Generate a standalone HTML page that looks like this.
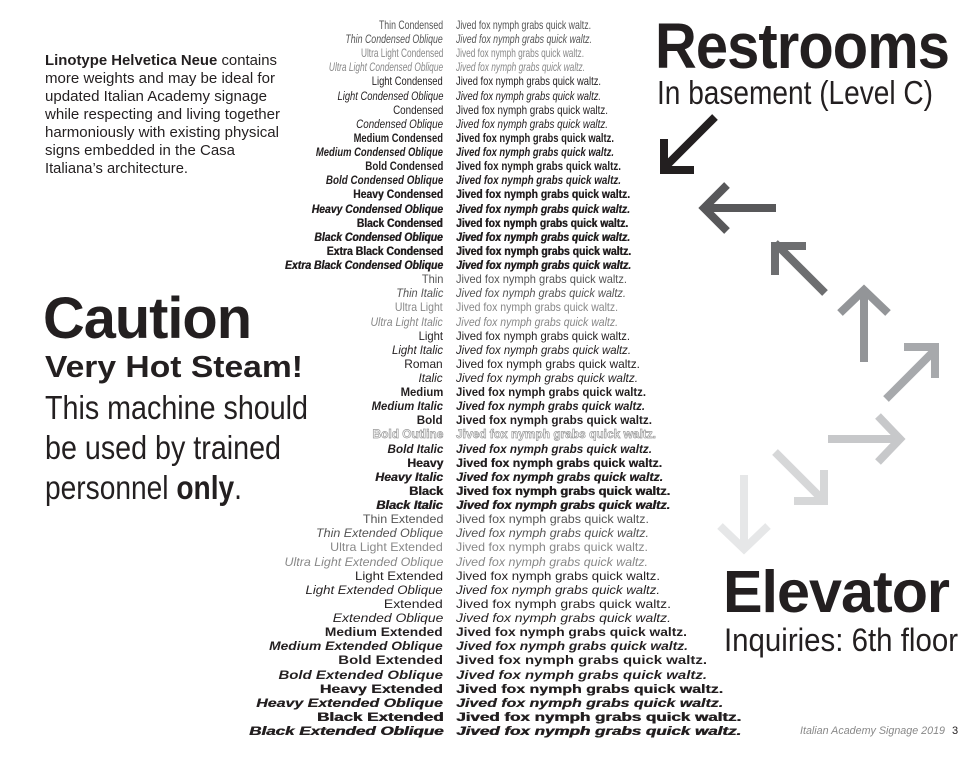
<!DOCTYPE html>
<html><head><meta charset="utf-8"><style>
html,body{margin:0;padding:0;background:#fff}
body{width:980px;height:757px;position:relative;overflow:hidden;font-family:"Liberation Sans",Arial,sans-serif;color:#231f20}
.r{position:absolute;left:0;width:980px;height:14px;line-height:14px;font-size:12px;white-space:nowrap}
.r .l{position:absolute;right:537px;transform-origin:right center;display:inline-block}
.r .s{position:absolute;left:456px;transform-origin:left center;display:inline-block}
.i{font-style:italic}
.b{font-weight:700}
.h{font-weight:700;text-shadow:0.3px 0 0 currentColor}
.k{font-weight:700;text-shadow:0.5px 0 0 currentColor}
.t{color:#555}
.u{color:#888}
.o{color:#fff;-webkit-text-stroke:0.7px #999;font-weight:700}
.abs{position:absolute;white-space:nowrap;transform-origin:left top}
.p{position:absolute;left:45px;font-size:14.5px;line-height:18px;white-space:nowrap;transform-origin:left top}
</style></head><body>

<div class="p" id="p1" style="top:52px"><b>Linotype Helvetica Neue</b> contains</div>
<div class="p" id="p2" style="top:70px">more weights and may be ideal for</div>
<div class="p" id="p3" style="top:88px">updated Italian Academy signage</div>
<div class="p" id="p4" style="top:106px">while respecting and living together</div>
<div class="p" id="p5" style="top:124px">harmoniously with existing physical</div>
<div class="p" id="p6" style="top:142px">signs embedded in the Casa</div>
<div class="p" id="p7" style="top:160px">Italiana’s architecture.</div>

<div class="abs" id="caution" style="left:43px;top:286px;font-size:58px;font-weight:700;line-height:66px;letter-spacing:-1px">Caution</div>
<div class="abs" id="steam" style="left:45px;top:347px;font-size:31px;font-weight:700;line-height:40px">Very Hot Steam!</div>
<div class="abs" id="m1" style="left:45px;top:388px;font-size:33px;line-height:40px">This machine should</div>
<div class="abs" id="m2" style="left:45px;top:428px;font-size:33px;line-height:40px">be used by trained</div>
<div class="abs" id="m3" style="left:45px;top:468px;font-size:33px;line-height:40px">personnel <b>only</b>.</div>

<div class="abs" id="rest" style="left:655px;top:11px;font-size:64px;font-weight:700;line-height:70px;letter-spacing:-1px">Restrooms</div>
<div class="abs" id="base" style="left:657px;top:73px;font-size:33px;line-height:40px">In basement (Level C)</div>
<div class="abs" id="elev" style="left:723px;top:559px;font-size:59px;font-weight:700;line-height:66px;letter-spacing:-1px">Elevator</div>
<div class="abs" id="inq" style="left:724px;top:620px;font-size:32px;line-height:40px">Inquiries: 6th floor</div>
<div class="abs" id="foot" style="left:800px;top:724px;font-size:11px;font-style:italic;color:#888;line-height:14px">Italian Academy Signage 2019</div>
<div class="abs" style="left:952px;top:724px;font-size:11px;color:#231f20;line-height:14px">3</div>

<svg style="position:absolute;left:0;top:0" width="980" height="757" fill="none" stroke-width="8" stroke-linecap="butt" stroke-linejoin="miter">
<g stroke="#231f20"><line x1="715" y1="117" x2="664" y2="168"/><polyline points="694,170 664,170 664,139"/></g>
<g stroke="#58585a"><line x1="776" y1="208" x2="704" y2="208"/><polyline points="727,185 704,208 727,231"/></g>
<g stroke="#6d6e70"><line x1="825" y1="293" x2="775" y2="243"/><polyline points="806,246 775,246 775,275"/></g>
<g stroke="#939598"><line x1="864" y1="362" x2="864" y2="290"/><polyline points="840,313 864,290 888,313"/></g>
<g stroke="#a7a9ac"><line x1="886" y1="399" x2="935" y2="350"/><polyline points="904,347 935,347 935,378"/></g>
<g stroke="#c7c8ca"><line x1="828" y1="439" x2="900" y2="439"/><polyline points="878,416 900,439 878,462"/></g>
<g stroke="#d6d7d8"><line x1="775" y1="452" x2="824" y2="501"/><polyline points="794,501 824,501 824,470"/></g>
<g stroke="#e6e7e8"><line x1="744" y1="475" x2="744" y2="547"/><polyline points="720,526 744,549 768,526"/></g>
</svg>

<div id="list">
<div class="r"><span class="l t">Thin Condensed</span><span class="s t">Jived fox nymph grabs quick waltz.</span></div>
<div class="r i"><span class="l t">Thin Condensed Oblique</span><span class="s t">Jived fox nymph grabs quick waltz.</span></div>
<div class="r"><span class="l u">Ultra Light Condensed</span><span class="s u">Jived fox nymph grabs quick waltz.</span></div>
<div class="r i"><span class="l u">Ultra Light Condensed Oblique</span><span class="s u">Jived fox nymph grabs quick waltz.</span></div>
<div class="r"><span class="l">Light Condensed</span><span class="s">Jived fox nymph grabs quick waltz.</span></div>
<div class="r i"><span class="l">Light Condensed Oblique</span><span class="s">Jived fox nymph grabs quick waltz.</span></div>
<div class="r"><span class="l">Condensed</span><span class="s">Jived fox nymph grabs quick waltz.</span></div>
<div class="r i"><span class="l">Condensed Oblique</span><span class="s">Jived fox nymph grabs quick waltz.</span></div>
<div class="r b"><span class="l">Medium Condensed</span><span class="s">Jived fox nymph grabs quick waltz.</span></div>
<div class="r b i"><span class="l">Medium Condensed Oblique</span><span class="s">Jived fox nymph grabs quick waltz.</span></div>
<div class="r b"><span class="l">Bold Condensed</span><span class="s">Jived fox nymph grabs quick waltz.</span></div>
<div class="r b i"><span class="l">Bold Condensed Oblique</span><span class="s">Jived fox nymph grabs quick waltz.</span></div>
<div class="r h"><span class="l">Heavy Condensed</span><span class="s">Jived fox nymph grabs quick waltz.</span></div>
<div class="r h i"><span class="l">Heavy Condensed Oblique</span><span class="s">Jived fox nymph grabs quick waltz.</span></div>
<div class="r k"><span class="l">Black Condensed</span><span class="s">Jived fox nymph grabs quick waltz.</span></div>
<div class="r k i"><span class="l">Black Condensed Oblique</span><span class="s">Jived fox nymph grabs quick waltz.</span></div>
<div class="r k"><span class="l">Extra Black Condensed</span><span class="s">Jived fox nymph grabs quick waltz.</span></div>
<div class="r k i"><span class="l">Extra Black Condensed Oblique</span><span class="s">Jived fox nymph grabs quick waltz.</span></div>
<div class="r"><span class="l t">Thin</span><span class="s t">Jived fox nymph grabs quick waltz.</span></div>
<div class="r i"><span class="l t">Thin Italic</span><span class="s t">Jived fox nymph grabs quick waltz.</span></div>
<div class="r"><span class="l u">Ultra Light</span><span class="s u">Jived fox nymph grabs quick waltz.</span></div>
<div class="r i"><span class="l u">Ultra Light Italic</span><span class="s u">Jived fox nymph grabs quick waltz.</span></div>
<div class="r"><span class="l">Light</span><span class="s">Jived fox nymph grabs quick waltz.</span></div>
<div class="r i"><span class="l">Light Italic</span><span class="s">Jived fox nymph grabs quick waltz.</span></div>
<div class="r"><span class="l">Roman</span><span class="s">Jived fox nymph grabs quick waltz.</span></div>
<div class="r i"><span class="l">Italic</span><span class="s">Jived fox nymph grabs quick waltz.</span></div>
<div class="r b"><span class="l">Medium</span><span class="s">Jived fox nymph grabs quick waltz.</span></div>
<div class="r b i"><span class="l">Medium Italic</span><span class="s">Jived fox nymph grabs quick waltz.</span></div>
<div class="r b"><span class="l">Bold</span><span class="s">Jived fox nymph grabs quick waltz.</span></div>
<div class="r o"><span class="l">Bold Outline</span><span class="s">Jived fox nymph grabs quick waltz.</span></div>
<div class="r b i"><span class="l">Bold Italic</span><span class="s">Jived fox nymph grabs quick waltz.</span></div>
<div class="r h"><span class="l">Heavy</span><span class="s">Jived fox nymph grabs quick waltz.</span></div>
<div class="r h i"><span class="l">Heavy Italic</span><span class="s">Jived fox nymph grabs quick waltz.</span></div>
<div class="r k"><span class="l">Black</span><span class="s">Jived fox nymph grabs quick waltz.</span></div>
<div class="r k i"><span class="l">Black Italic</span><span class="s">Jived fox nymph grabs quick waltz.</span></div>
<div class="r"><span class="l t">Thin Extended</span><span class="s t">Jived fox nymph grabs quick waltz.</span></div>
<div class="r i"><span class="l t">Thin Extended Oblique</span><span class="s t">Jived fox nymph grabs quick waltz.</span></div>
<div class="r"><span class="l u">Ultra Light Extended</span><span class="s u">Jived fox nymph grabs quick waltz.</span></div>
<div class="r i"><span class="l u">Ultra Light Extended Oblique</span><span class="s u">Jived fox nymph grabs quick waltz.</span></div>
<div class="r"><span class="l">Light Extended</span><span class="s">Jived fox nymph grabs quick waltz.</span></div>
<div class="r i"><span class="l">Light Extended Oblique</span><span class="s">Jived fox nymph grabs quick waltz.</span></div>
<div class="r"><span class="l">Extended</span><span class="s">Jived fox nymph grabs quick waltz.</span></div>
<div class="r i"><span class="l">Extended Oblique</span><span class="s">Jived fox nymph grabs quick waltz.</span></div>
<div class="r b"><span class="l">Medium Extended</span><span class="s">Jived fox nymph grabs quick waltz.</span></div>
<div class="r b i"><span class="l">Medium Extended Oblique</span><span class="s">Jived fox nymph grabs quick waltz.</span></div>
<div class="r b"><span class="l">Bold Extended</span><span class="s">Jived fox nymph grabs quick waltz.</span></div>
<div class="r b i"><span class="l">Bold Extended Oblique</span><span class="s">Jived fox nymph grabs quick waltz.</span></div>
<div class="r h"><span class="l">Heavy Extended</span><span class="s">Jived fox nymph grabs quick waltz.</span></div>
<div class="r h i"><span class="l">Heavy Extended Oblique</span><span class="s">Jived fox nymph grabs quick waltz.</span></div>
<div class="r k"><span class="l">Black Extended</span><span class="s">Jived fox nymph grabs quick waltz.</span></div>
<div class="r k i"><span class="l">Black Extended Oblique</span><span class="s">Jived fox nymph grabs quick waltz.</span></div>
</div>

<script>
(function(){
var ends=[591,592,584,585,601,601,608,608,614,614,621,621,630,630,628,630,631,631,
627,626,618,618,630,631,640,638,646,645,652,656,652,662,663,670,670,
649,649,648,648,660,660,671,671,687,688,707,707,723,723,741,741];
var rows=document.querySelectorAll('#list .r');
for(var i=0;i<rows.length;i++){
  var r=rows[i];
  r.style.top=(24+i*14.12-6)+'px';
  var s=r.querySelector('.s'),l=r.querySelector('.l');
  var w=s.getBoundingClientRect().width;
  var f=(ends[i]-456)/w;
  s.style.transform='scaleX('+f+')';
  l.style.transform='scaleX('+f+')';
}
function fit(id,w){var e=document.getElementById(id);var cw=e.getBoundingClientRect().width;e.style.transform='scaleX('+(w/cw)+')';}
fit('caution',208);fit('steam',258);fit('m1',263);fit('m2',236);fit('m3',197);
fit('rest',294);fit('base',276);fit('elev',226);fit('inq',234);
fit('p1',232);fit('p2',230);fit('p3',222);fit('p4',235);fit('p5',234);fit('p6',190);fit('p7',143);
fit('foot',145);
})();
</script>
</body></html>
